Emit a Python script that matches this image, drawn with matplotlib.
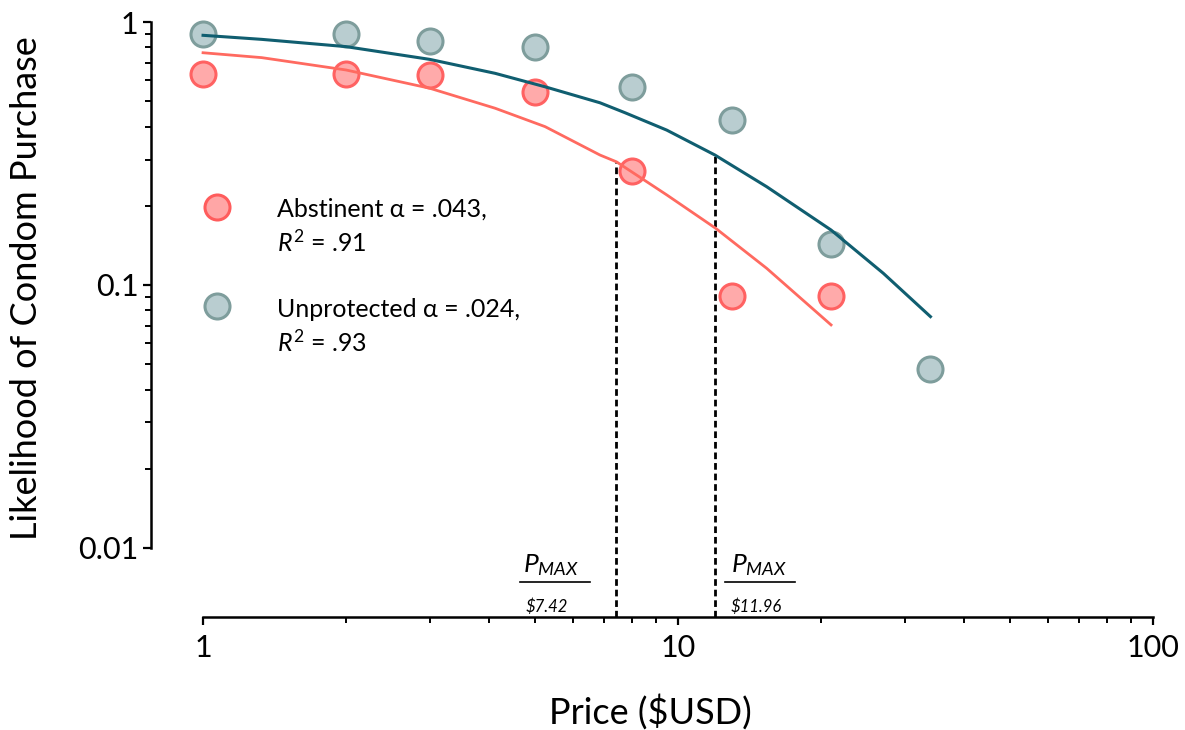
import matplotlib
matplotlib.use("Agg")
import matplotlib.pyplot as plt
import matplotlib.transforms as mtransforms
from matplotlib.ticker import NullFormatter, FixedLocator, FixedFormatter

plt.rcParams['font.family'] = ['Lato', 'DejaVu Sans']
plt.rcParams['mathtext.fontset'] = 'custom'
plt.rcParams['mathtext.rm'] = 'Lato'
plt.rcParams['mathtext.it'] = 'Lato:italic'
plt.rcParams['mathtext.bf'] = 'Lato:bold'

# ---- data ----
price_abst = [1, 2, 3, 5, 8, 13, 21]
like_abst = [0.633, 0.633, 0.629, 0.543, 0.271, 0.091, 0.091]
price_unprot = [1, 2, 3, 5, 8, 13, 21, 34]
like_unprot = [0.898, 0.898, 0.849, 0.806, 0.568, 0.424, 0.1436, 0.048]

# fitted demand curves
fit_abst_x = [1, 1.329, 2, 3, 4.12, 5.25, 6.85, 7.42, 9.47, 12.0, 15.37, 21]
fit_abst_y = [0.764, 0.732, 0.657, 0.560, 0.470, 0.400, 0.312, 0.294, 0.220, 0.1643, 0.1157, 0.0705]
fit_unprot_x = [1, 1.329, 2, 3, 4.12, 5.25, 6.85, 7.73, 9.47, 11.96, 15.37, 21, 27.05, 34]
fit_unprot_y = [0.890, 0.859, 0.806, 0.721, 0.638, 0.567, 0.493, 0.452, 0.388, 0.312, 0.2364, 0.1618, 0.1108, 0.0758]

pmax_values = [7.42, 11.96]
pmax_top = [0.294, 0.312]
pmax_labels = ['$7.42', '$11.96']

legend_labels = [('Abstinent α = .043,', r'$\mathit{R}^{2}$ = .91'),
                 ('Unprotected α = .024,', r'$\mathit{R}^{2}$ = .93')]

x_ticks = [1, 10, 100]
x_ticklabels = ['1', '10', '100']
x_minor = [2, 3, 4, 5, 6, 7, 8, 9, 20, 30, 40, 50, 60, 70, 80, 90]
y_ticks = [0.01, 0.1, 1]
y_ticklabels = ['0.01', '0.1', '1']
y_minor = [0.02, 0.03, 0.04, 0.05, 0.06, 0.07, 0.08, 0.09,
           0.2, 0.3, 0.4, 0.5, 0.6, 0.7, 0.8, 0.9]

# ---- colours ----
red_fill = '#FFA6A6'
red_edge = '#FF5C5C'
red_line = '#FF6A60'
grey_fill = '#B9CDD0'
grey_edge = '#7E9D9C'
teal_line = '#105E70'

W, H = 1185, 730
fig = plt.figure(figsize=(W / 100, H / 100), dpi=100)
ax_left, ax_right, ax_top, ax_bottom = 151, 1153, 22, 617
ax = fig.add_axes([ax_left / W, 1 - ax_bottom / H, (ax_right - ax_left) / W, (ax_bottom - ax_top) / H])

ax.set_xscale('log')
ax.set_yscale('log')
ax.set_xlim(0.777, 100)
ax.set_ylim(0.005464, 1)

for s in ['top', 'right']:
    ax.spines[s].set_visible(False)
ax.spines['left'].set_bounds(0.01, 1)
ax.spines['bottom'].set_bounds(1, 100)
for s in ['left', 'bottom']:
    ax.spines[s].set_linewidth(1.8)
    ax.spines[s].set_color('black')

ax.xaxis.set_major_locator(FixedLocator(x_ticks))
ax.xaxis.set_major_formatter(FixedFormatter(x_ticklabels))
ax.yaxis.set_major_locator(FixedLocator(y_ticks))
ax.yaxis.set_major_formatter(FixedFormatter(y_ticklabels))
ax.xaxis.set_minor_locator(FixedLocator(x_minor))
ax.yaxis.set_minor_locator(FixedLocator(y_minor))
ax.xaxis.set_minor_formatter(NullFormatter())
ax.yaxis.set_minor_formatter(NullFormatter())
ax.tick_params(axis='both', which='major', length=6, width=1.6, direction='out', color='black')
ax.tick_params(axis='both', which='minor', length=4, width=1.4, direction='out', color='black')
ax.tick_params(axis='x', which='major', labelsize=22, pad=6)
ax.tick_params(axis='y', which='major', labelsize=22, pad=3)

# data points
ax.plot(price_unprot, like_unprot, 'o', ms=18, mfc=grey_fill, mec=grey_edge, mew=2.2,
        clip_on=False, zorder=3)
ax.plot(price_abst, like_abst, 'o', ms=18, mfc=red_fill, mec=red_edge, mew=2.2,
        clip_on=False, zorder=3, alpha=0.95)

# fitted curves
ax.plot(fit_unprot_x, fit_unprot_y, '-', color=teal_line, lw=2.2, zorder=4,
        solid_joinstyle='round')
ax.plot(fit_abst_x, fit_abst_y, '-', color=red_line, lw=2.0, zorder=4,
        solid_joinstyle='round')

# Pmax dashed lines
ymin = ax.get_ylim()[0]
for xv, yt in zip(pmax_values, pmax_top):
    ax.plot([xv, xv], [ymin, yt], color='black', lw=2.0, dashes=[2.4, 1.4], zorder=2, clip_on=False)

# Pmax annotations
trans = mtransforms.blended_transform_factory(ax.transData, ax.transAxes)
frac = lambda py: (ax_bottom - py) / (ax_bottom - ax_top)
pmax_text_x = [5.40, 14.8]
pmax_line_x = [(4.65, 6.53), (12.56, 17.64)]
pmax_val_x = [5.30, 14.63]
for tx, (l0, l1), vx, lab in zip(pmax_text_x, pmax_line_x, pmax_val_x, pmax_labels):
    ax.text(tx, frac(572), r'$P_{MAX}$', transform=trans, ha='center', va='baseline', fontsize=19)
    ax.plot([l0, l1], [frac(582), frac(582)], transform=trans, color='black', lw=1.2, clip_on=False)
    ax.text(vx, frac(612), lab.replace('$', r'\$'), transform=trans, ha='center', va='baseline',
            fontsize=12, style='italic')

# legend (manual)
afx = lambda px: (px - ax_left) / (ax_right - ax_left)
leg_marker_y = [207, 306]
leg_line1_y = [217, 317]
leg_line2_y = [252, 352]
leg_styles = [(red_fill, red_edge), (grey_fill, grey_edge)]
for (l1, l2), my, y1, y2, (fc, ec) in zip(legend_labels, leg_marker_y, leg_line1_y, leg_line2_y, leg_styles):
    ax.plot([afx(217)], [frac(my)], 'o', ms=18, mfc=fc, mec=ec, mew=2.2, transform=ax.transAxes,
            clip_on=False)
    ax.text(afx(277), frac(y1), l1, transform=ax.transAxes, fontsize=18, va='baseline', ha='left')
    ax.text(afx(277), frac(y2), l2, transform=ax.transAxes, fontsize=18, va='baseline', ha='left')

ax.set_xlabel('Price ($USD)', fontsize=26, va='center')
ax.xaxis.set_label_coords(afx(650), frac(712))
ax.set_ylabel('Likelihood of Condom Purchase', fontsize=26, va='center')
ax.yaxis.set_label_coords(afx(27), frac(288))

fig.savefig('out.png', dpi=100)
